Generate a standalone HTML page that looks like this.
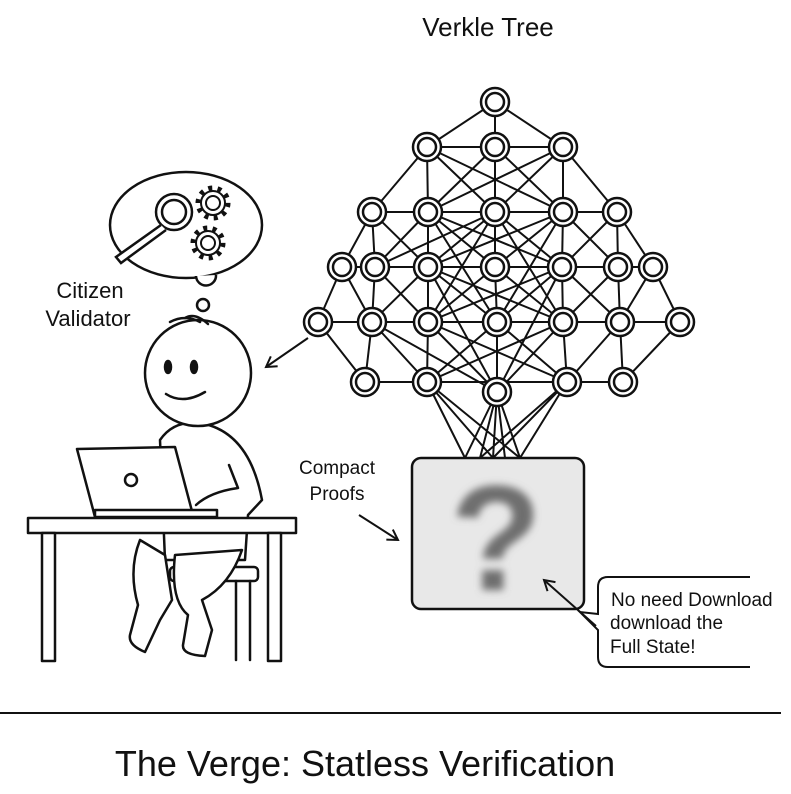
<!DOCTYPE html>
<html><head><meta charset="utf-8"><style>
body{margin:0;background:#fff}
svg{display:block}
text{font-family:"Liberation Sans",sans-serif;fill:#111}
</style></head><body>
<svg width="791" height="794" viewBox="0 0 791 794" xmlns="http://www.w3.org/2000/svg">
<defs>
<filter id="bl" x="-50%" y="-50%" width="200%" height="200%"><feGaussianBlur stdDeviation="4"/></filter>
<marker id="ah" markerWidth="14" markerHeight="14" refX="11" refY="7" orient="auto" markerUnits="userSpaceOnUse"><path d="M1,1 L11,7 L1,13" fill="none" stroke="#111" stroke-width="2"/></marker>
<g id="nd"><circle r="14" fill="#fff" stroke="#111" stroke-width="2.5"/><circle r="9" fill="#fff" stroke="#111" stroke-width="2.5"/></g>
</defs>
<text x="488" y="36" font-size="26" text-anchor="middle">Verkle Tree</text>
<g stroke="#111" stroke-width="2" fill="none">
<path d="M495,102L427,147M495,102L495,147M495,102L563,147M427,147L563,147
M427,147L372,212M427,147L428,212M427,147L495,212M427,147L563,212
M495,147L428,212M495,147L495,212M495,147L563,212
M563,147L428,212M563,147L495,212M563,147L563,212M563,147L617,212
M372,212L617,212
M372,212L342,267M372,212L375,267M372,212L428,267
M428,212L375,267M428,212L428,267M428,212L495,267M428,212L562,267
M495,212L375,267M495,212L428,267M495,212L495,267M495,212L562,267
M563,212L428,267M563,212L495,267M563,212L562,267M563,212L618,267
M617,212L562,267M617,212L618,267M617,212L653,267
M342,267L653,267
M342,267L318,322M342,267L372,322M375,267L372,322M375,267L428,322
M428,267L372,322M428,267L428,322M428,267L497,322M428,267L563,322
M495,267L428,322M495,267L497,322M495,267L563,322
M562,267L428,322M562,267L497,322M562,267L563,322M562,267L620,322
M618,267L563,322M618,267L620,322M653,267L620,322M653,267L680,322
M318,322L680,322
M318,322L365,382M372,322L365,382M372,322L427,382M372,322L497,392
M428,322L427,382M428,322L497,392M428,322L567,382
M497,322L427,382M497,322L497,392M497,322L567,382
M563,322L427,382M563,322L497,392M563,322L567,382
M620,322L567,382M620,322L623,382M680,322L623,382
M365,382L623,382
M428,212L497,322M563,212L497,322M495,212L428,322M495,212L563,322M428,267L497,392M562,267L497,392
M427,382L465,458M427,382L493,458M427,382L520,458
M497,392L465,458M497,392L480,458M497,392L493,458M497,392L505,458M497,392L520,458
M567,382L493,458M567,382L520,458M567,382L480,458"/>
</g>
<use href="#nd" x="495" y="102"/>
<use href="#nd" x="427" y="147"/><use href="#nd" x="495" y="147"/><use href="#nd" x="563" y="147"/>
<use href="#nd" x="372" y="212"/><use href="#nd" x="428" y="212"/><use href="#nd" x="495" y="212"/><use href="#nd" x="563" y="212"/><use href="#nd" x="617" y="212"/>
<use href="#nd" x="342" y="267"/><use href="#nd" x="375" y="267"/><use href="#nd" x="428" y="267"/><use href="#nd" x="495" y="267"/><use href="#nd" x="562" y="267"/><use href="#nd" x="618" y="267"/><use href="#nd" x="653" y="267"/>
<use href="#nd" x="318" y="322"/><use href="#nd" x="372" y="322"/><use href="#nd" x="428" y="322"/><use href="#nd" x="497" y="322"/><use href="#nd" x="563" y="322"/><use href="#nd" x="620" y="322"/><use href="#nd" x="680" y="322"/>
<use href="#nd" x="365" y="382"/><use href="#nd" x="427" y="382"/><use href="#nd" x="497" y="392"/><use href="#nd" x="567" y="382"/><use href="#nd" x="623" y="382"/>
<!-- box -->
<rect x="412" y="458" width="172" height="151" rx="9" fill="#e8e8e8" stroke="#111" stroke-width="2.5"/>
<text x="496" y="590" font-size="150" font-weight="bold" text-anchor="middle" style="fill:#6e6e6e" filter="url(#bl)">?</text>
<text x="337" y="474" font-size="19" text-anchor="middle">Compact</text>
<text x="337" y="500" font-size="19" text-anchor="middle">Proofs</text>
<line x1="359" y1="515" x2="398" y2="540" stroke="#111" stroke-width="2" marker-end="url(#ah)"/>
<!-- callout -->
<path d="M750,577 L608,577 Q598,577 598,587 L598,614 L580,612 L598,630 L598,657 Q598,667 608,667 L750,667" fill="#fff" stroke="#111" stroke-width="2"/>
<line x1="596" y1="626" x2="544" y2="580" stroke="#111" stroke-width="2" marker-end="url(#ah)"/>
<text x="611" y="606" font-size="19">No need Download</text>
<text x="610" y="629" font-size="19">download the</text>
<text x="610" y="653" font-size="19">Full State!</text>
<!-- arrow to head -->
<line x1="308" y1="338" x2="266" y2="367" stroke="#111" stroke-width="2" marker-end="url(#ah)"/>
<!-- thought bubble -->
<g stroke="#111" stroke-width="2.5" fill="#fff">
<ellipse cx="186" cy="225" rx="76" ry="53"/>
<path d="M196,276 A10,10 0 1 0 216,275"/>
<circle cx="203" cy="305" r="6"/>
<circle cx="174" cy="212" r="18"/>
<circle cx="174" cy="212" r="12"/>
<path d="M161,225 L116,257 L121,263 L166,230"/>
</g>
<g stroke="#111" stroke-width="2" fill="none">
<circle cx="213" cy="203" r="7"/>
<circle cx="213" cy="203" r="12"/>
<circle cx="213" cy="203" r="15" stroke-dasharray="4 5.4" stroke-width="5"/>
<circle cx="208" cy="243" r="7"/>
<circle cx="208" cy="243" r="12"/>
<circle cx="208" cy="243" r="15" stroke-dasharray="4 5.4" stroke-width="5"/>
</g>
<text x="90" y="298" font-size="22" text-anchor="middle">Citizen</text>
<text x="88" y="326" font-size="22" text-anchor="middle">Validator</text>
<!-- person -->
<g stroke="#111" stroke-width="2.5" fill="#fff" stroke-linecap="round" stroke-linejoin="round">
<path d="M160,440 Q175,418 205,424 Q250,435 262,500 L248,515 L245,560 L165,560 Z"/>
<circle cx="198" cy="373" r="53"/>
<path d="M170,322 Q185,314 200,322 M185,318 Q195,312 208,324" fill="none"/>
<ellipse cx="168" cy="367" rx="3" ry="6" fill="#111"/>
<ellipse cx="194" cy="367" rx="3" ry="6" fill="#111"/>
<path d="M166,394 Q183,405 205,392" fill="none"/>
<path d="M229,465 L238,488 Q210,492 196,505" fill="none"/>
<!-- stool -->
<rect x="170" y="567" width="88" height="14" rx="4"/>
<line x1="236" y1="581" x2="236" y2="660"/>
<line x1="250" y1="581" x2="250" y2="660"/>
<!-- legs -->
<path d="M140,540 Q128,570 138,605 L130,635 Q128,645 145,652 L160,620 L172,600 L165,555 Z"/>
<path d="M175,555 Q170,600 188,615 L183,645 Q182,655 205,656 L212,630 L202,600 Q230,585 242,550 Z"/>
<!-- laptop -->
<path d="M77,449 L175,447 L193,515 L95,517 Z"/>
<circle cx="131" cy="480" r="6"/>
<rect x="95" y="510" width="122" height="7"/>
<!-- desk -->
<rect x="28" y="518" width="268" height="15"/>
<rect x="42" y="533" width="13" height="128"/>
<rect x="268" y="533" width="13" height="128"/>
</g>
<line x1="0" y1="713" x2="781" y2="713" stroke="#111" stroke-width="2"/>
<text x="365" y="776" font-size="36" text-anchor="middle">The Verge: Statless Verification</text>
</svg>
</body></html>
